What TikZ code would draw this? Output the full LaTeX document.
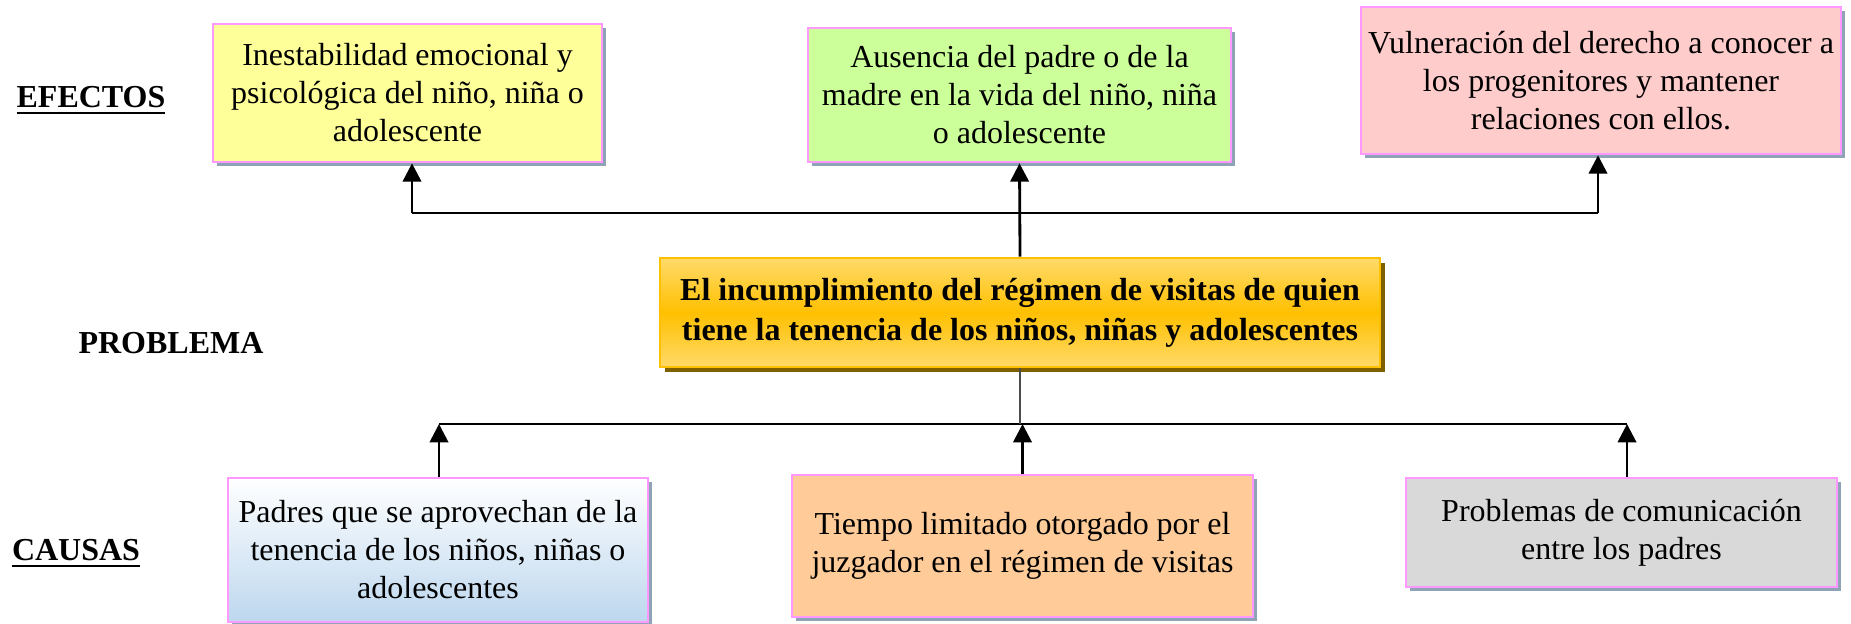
\documentclass[tikz,border=0pt]{standalone}
\usepackage{fontspec}
\setmainfont{Liberation Serif}
\usetikzlibrary{arrows.meta,shadows}

\definecolor{pinkline}{HTML}{FF99FF}
\definecolor{efyellow}{HTML}{FFFF99}
\definecolor{efgreen}{HTML}{CCFF99}
\definecolor{efpink}{HTML}{FFCCCC}
\definecolor{caorange}{HTML}{FFCC99}
\definecolor{cagray}{HTML}{D9D9D9}
\definecolor{cablue}{HTML}{BDD7EE}
\definecolor{shdblue}{HTML}{8EA3B6}
\definecolor{gold}{HTML}{FFC000}
\definecolor{goldlight}{HTML}{FFDA6A}
\definecolor{shdgold}{HTML}{7F6000}

\tikzset{
  box/.style={draw=pinkline, line width=0.75pt, align=center, inner sep=2pt,
    font=\fontsize{9.1}{10.8}\selectfont,
    drop shadow={shadow xshift=0.04cm, shadow yshift=-0.04cm, fill=shdblue, opacity=1}},
  probbox/.style={draw=gold, line width=0.75pt, align=center, inner sep=2pt,
    top color=goldlight, bottom color=goldlight, middle color=gold,
    font=\fontsize{9.1}{11.4}\selectfont\bfseries,
    drop shadow={shadow xshift=0.05cm, shadow yshift=-0.05cm, fill=shdgold, opacity=1}},
  heading/.style={font=\fontsize{9.1}{10.8}\selectfont\bfseries},
  arr/.style={-{Triangle[width=5.2pt,length=5.2pt]}, line width=0.8pt},
  bus/.style={line width=0.57pt}
}

\begin{document}
\begin{tikzpicture}
\useasboundingbox (0,0) rectangle (18.51,6.23);

\node[heading] (efectos) at (0.91,5.22) {\underline{EFECTOS}};
\node[heading] (problema) at (1.71,2.80) {PROBLEMA};
\node[heading] (causas) at (0.76,0.69) {\underline{CAUSAS}};

\node[box, fill=efyellow, minimum width=3.89cm, minimum height=1.38cm] (ef1) at (4.075,5.30)
  {Inestabilidad emocional y\\psicológica del niño, niña o\\adolescente};
\node[box, fill=efgreen, minimum width=4.23cm, minimum height=1.34cm] (ef2) at (10.195,5.28)
  {Ausencia del padre o de la\\madre en la vida del niño, niña\\o adolescente};
\node[box, fill=efpink, minimum width=4.76cm, minimum height=1.47cm] (ef3) at (16.01,5.425)
  {Vulneración del derecho a conocer a\\los progenitores y mantener\\relaciones con ellos.};

\node[probbox, minimum width=7.20cm, minimum height=1.09cm] (prob) at (10.20,3.105)
  {El incumplimiento del régimen de visitas de quien\\tiene la tenencia de los niños, niñas y adolescentes};

\node[box, top color=white, bottom color=cablue, minimum width=4.20cm, minimum height=1.44cm] (ca1) at (4.38,0.73)
  {Padres que se aprovechan de la\\tenencia de los niños, niñas o\\adolescentes};
\node[box, fill=caorange, minimum width=4.61cm, minimum height=1.42cm] (ca2) at (10.225,0.77)
  {Tiempo limitado otorgado por el\\juzgador en el régimen de visitas};
\node[box, fill=cagray, minimum width=4.31cm, minimum height=1.09cm] (ca3) at (16.215,0.905)
  {Problemas de comunicación\\entre los padres};

\coordinate (tl) at (4.12,4.10);
\coordinate (tr) at (15.98,4.10);
\coordinate (bl) at (4.39,1.99);
\coordinate (br) at (16.27,1.99);

% efectos
\draw[bus] (tl) -- (tr);
\draw[arr] (tl) -- (tl |- ef1.south);
\draw[arr] (prob.north) -- (ef2.south);
\draw[arr] (tr) -- (tr |- ef3.south);

% causas
\draw[bus] (bl) -- (br);
\draw[line width=0.4pt, black!70] (prob.south) -- (prob.south |- bl);
\draw[arr] (bl |- ca1.north) -- (bl);
\draw[arr] (ca2.north) -- (ca2.north |- bl);
\draw[arr] (br |- ca3.north) -- (br);
\end{tikzpicture}
\end{document}
